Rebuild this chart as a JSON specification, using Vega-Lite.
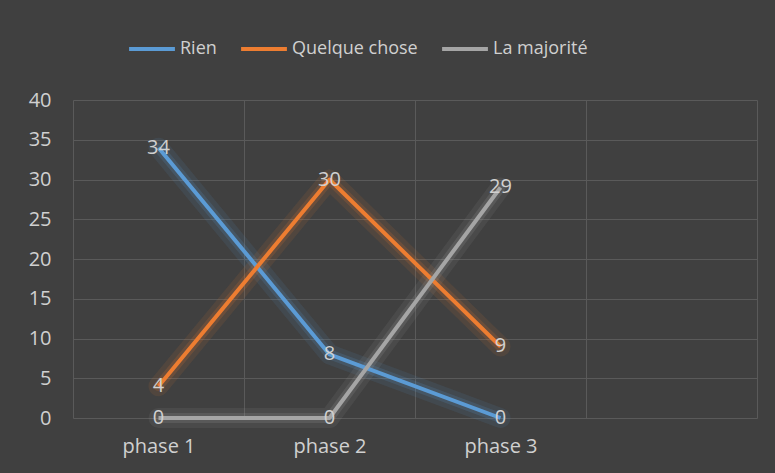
{
  "$schema": "https://vega.github.io/schema/vega-lite/v6.json",
  "width": 684,
  "height": 318,
  "autosize": {"type": "none"},
  "padding": {"left": 73, "top": 100, "right": 18, "bottom": 55},
  "background": "#404040",
  "config": {
    "view": {"stroke": null},
    "font": "Open Sans"
  },
  "data": {
    "values": [
      {"phase": "phase 1", "serie": "Rien", "value": 34},
      {"phase": "phase 2", "serie": "Rien", "value": 8},
      {"phase": "phase 3", "serie": "Rien", "value": 0},
      {"phase": "phase 1", "serie": "Quelque chose", "value": 4},
      {"phase": "phase 2", "serie": "Quelque chose", "value": 30},
      {"phase": "phase 3", "serie": "Quelque chose", "value": 9},
      {"phase": "phase 1", "serie": "La majorité", "value": 0},
      {"phase": "phase 2", "serie": "La majorité", "value": 0},
      {"phase": "phase 3", "serie": "La majorité", "value": 29}
    ]
  },
  "encoding": {
    "x": {
      "field": "phase",
      "type": "nominal",
      "bandPosition": 0.5,
      "scale": {"type": "band", "domain": ["phase 1", "phase 2", "phase 3", " "], "paddingInner": 0, "paddingOuter": 0},
      "axis": {
        "title": null,
        "labelAngle": 0,
        "grid": true,
        "gridColor": "#5a5a5a",
        "gridWidth": 1,
        "tickBand": "extent",
        "ticks": false,
        "domain": false,
        "labelColor": "#d0d0d0",
        "labelFontSize": 20,
        "labelPadding": 18
      }
    },
    "y": {
      "field": "value",
      "type": "quantitative",
      "scale": {"domain": [0, 40], "nice": false},
      "axis": {
        "title": null,
        "values": [0, 5, 10, 15, 20, 25, 30, 35, 40],
        "grid": true,
        "gridColor": "#5a5a5a",
        "gridWidth": 1,
        "ticks": false,
        "domain": false,
        "labelColor": "#d0d0d0",
        "labelFontSize": 20,
        "labelPadding": 22
      }
    }
  },
  "resolve": {"legend": {"color": "independent"}},
  "layer": [
    {
      "mark": {"type": "line", "strokeWidth": 20, "opacity": 0.1, "strokeCap": "round", "strokeJoin": "round"},
      "encoding": {
        "color": {
          "field": "serie",
          "type": "nominal",
          "scale": {"domain": ["Rien", "Quelque chose", "La majorité"], "range": ["#5B9BD5", "#ED7D31", "#A5A5A5"]},
          "legend": null
        }
      }
    },
    {
      "mark": {"type": "line", "strokeWidth": 10, "opacity": 0.16, "strokeCap": "round", "strokeJoin": "round"},
      "encoding": {
        "color": {"field": "serie", "type": "nominal", "legend": null}
      }
    },
    {
      "mark": {"type": "line", "strokeWidth": 4, "strokeJoin": "round"},
      "encoding": {
        "color": {
          "field": "serie",
          "type": "nominal",
          "legend": {
            "orient": "none",
            "legendX": 54,
            "legendY": -76,
            "direction": "horizontal",
            "title": null,
            "symbolType": "stroke",
            "symbolSize": 2100,
            "symbolStrokeWidth": 4,
            "symbolOpacity": 1,
            "labelFontSize": 18,
            "labelColor": "#d0d0d0",
            "labelOffset": 3,
            "columnPadding": 16
          }
        }
      }
    },
    {
      "mark": {"type": "text", "fontSize": 20, "color": "#d0d0d0", "align": "center", "baseline": "middle"},
      "encoding": {
        "text": {"field": "value", "type": "quantitative"},
        "detail": {"field": "serie", "type": "nominal"}
      }
    }
  ]
}
